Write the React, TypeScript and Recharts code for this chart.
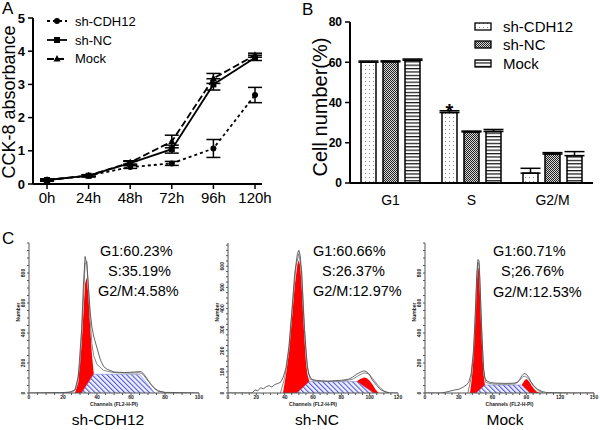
import React from 'react';
import {
  LineChart,
  Line,
  BarChart,
  Bar,
  ComposedChart,
  Area,
  XAxis,
  YAxis,
  ErrorBar,
  LabelList,
} from 'recharts';

const FONT = '"Liberation Sans", Arial, Helvetica, sans-serif';

// ---- A: CCK-8 growth curve ----
const hours = ['0h', '24h', '48h', '72h', '96h', '120h'];
const cdh12Abs = [0.12, 0.25, 0.51, 0.62, 1.07, 2.68];
const cdh12AbsErr = [0.03, 0.03, 0.04, 0.06, 0.27, 0.23];
const ncAbs = [0.12, 0.25, 0.63, 1.05, 3.0, 3.8];
const ncAbsErr = [0.03, 0.03, 0.05, 0.12, 0.17, 0.08];
const mockAbs = [0.12, 0.25, 0.65, 1.28, 3.18, 3.88];
const mockAbsErr = [0.03, 0.03, 0.05, 0.19, 0.15, 0.06];
const absTicks = [0, 1, 2, 3, 4, 5];

// ---- B: cell cycle distribution ----
const phases = ['G1', 'S', 'G2/M'];
const cdh12Pct = [60.0, 35.0, 4.9];
const cdh12PctErr = [0.6, 0.9, 2.4];
const ncPct = [60.2, 25.4, 14.4];
const ncPctErr = [0.5, 0.4, 0.7];
const mockPct = [61.0, 25.6, 13.6];
const mockPctErr = [0.6, 1.0, 2.0];
const sigMarks = ['', '*', ''];
const pctTicks = [0, 20, 40, 60, 80];

// ---- C: flow cytometry histograms (channel, count) ----
const cdh12RawCh = [0, 10, 20, 24, 27, 29, 31, 32, 33, 34, 35, 36, 37, 38, 40, 42, 44, 46, 50, 56, 62, 66, 68, 70, 72, 74, 76, 80, 88, 100];
const cdh12Raw = [0, 2, 3, 6, 20, 110, 430, 720, 910, 860, 700, 540, 440, 380, 300, 220, 175, 158, 140, 136, 140, 143, 120, 85, 55, 28, 12, 4, 3, 0];
const cdh12FitCh = [20, 26, 28, 30, 32, 33, 34, 35, 36, 37, 38, 40, 44, 50, 60, 65, 67, 70, 73, 76, 80];
const cdh12Fit = [0, 8, 40, 200, 620, 860, 880, 690, 480, 330, 250, 190, 150, 136, 133, 135, 125, 80, 40, 15, 3];
const cdh12G1Ch = [27, 29, 31, 33, 34, 35, 36, 37, 38, 39.5];
const cdh12G1 = [0, 70, 330, 730, 770, 640, 440, 260, 140, 0];
const cdh12SCh = [31, 38, 65, 74];
const cdh12S = [0, 125, 125, 0];

const ncRawCh = [0, 17, 19, 21, 23, 25, 27, 29, 31, 33, 35, 37, 39, 41, 43, 45, 47, 49, 50, 51, 52, 53, 54, 55, 56, 57, 59, 62, 66, 70, 75, 80, 85, 88, 91, 94, 96, 98, 100, 102, 105, 108, 111, 114, 120];
const ncRaw = [0, 0, 15, 10, 25, 20, 30, 35, 28, 40, 45, 50, 75, 120, 220, 380, 560, 660, 676, 650, 560, 420, 300, 200, 130, 90, 65, 60, 58, 56, 58, 60, 65, 75, 90, 100, 105, 100, 85, 60, 35, 15, 5, 0, 0];
const ncFitCh = [37, 40, 43, 46, 48, 50, 52, 54, 56, 58, 62, 70, 80, 88, 92, 96, 99, 102, 106, 110, 114];
const ncFit = [0, 70, 200, 450, 600, 660, 580, 300, 120, 65, 56, 55, 56, 65, 82, 95, 92, 70, 35, 10, 0];
const ncG1Ch = [38.8, 41, 43, 45, 47, 49, 50, 51, 52, 53, 54, 55, 56, 57.4, 59];
const ncG1 = [0, 90, 190, 340, 500, 610, 629, 600, 500, 370, 250, 150, 90, 54, 0];
const ncSCh = [48.7, 57.4, 91, 102.8];
const ncS = [0, 54, 54, 0];
const ncG2Ch = [88, 90, 93, 96, 98, 100, 102, 104, 106.3];
const ncG2 = [0, 50, 65, 73, 70, 58, 40, 18, 0];

const mockRawCh = [0, 14, 18, 22, 26, 30, 34, 37, 39, 41, 43, 44, 45, 46, 47, 48, 49, 50, 51, 52, 53, 55, 58, 62, 70, 78, 82, 84, 86, 88, 90, 92, 94, 97, 100, 104, 108, 115, 130, 150];
const mockRaw = [0, 0, 5, 12, 20, 25, 40, 55, 75, 130, 280, 420, 600, 800, 890, 880, 700, 480, 300, 170, 100, 80, 70, 66, 64, 65, 70, 90, 115, 130, 125, 105, 75, 45, 25, 10, 3, 2, 0, 0];
const mockFitCh = [38, 41, 43, 45, 46, 47, 48, 49, 50, 52, 54, 60, 70, 80, 84, 87, 89, 92, 96, 100, 105];
const mockFit = [0, 100, 250, 560, 760, 870, 860, 680, 470, 150, 70, 60, 58, 60, 85, 110, 112, 95, 50, 18, 0];
const mockG1Ch = [39.9, 41, 42, 43, 44, 45, 46, 47, 47.5, 48, 49, 50, 51, 52, 53.2, 55];
const mockG1 = [0, 60, 130, 240, 380, 560, 740, 830, 836, 800, 620, 420, 250, 120, 53, 0];
const mockSCh = [45.5, 53.2, 85.8, 93];
const mockS = [0, 53, 53, 0];
const mockG2Ch = [84, 86, 88, 89.6, 91, 93, 95, 97, 99, 102];
const mockG2 = [0, 55, 80, 93, 88, 70, 45, 25, 10, 0];

const growthRows = hours.map((h, i) => ({
  hour: h,
  cdh12: cdh12Abs[i],
  cdh12Err: cdh12AbsErr[i],
  nc: ncAbs[i],
  ncErr: ncAbsErr[i],
  mock: mockAbs[i],
  mockErr: mockAbsErr[i],
}));

// error bars only point upwards in the figure
const phaseRows = phases.map((p, i) => ({
  phase: p,
  cdh12: cdh12Pct[i],
  cdh12Err: [0, cdh12PctErr[i]],
  nc: ncPct[i],
  ncErr: [0, ncPctErr[i]],
  mock: mockPct[i],
  mockErr: [0, mockPctErr[i]],
  sig: sigMarks[i],
}));

// merge series with different channel grids into one table (nulls get connected)
function mergeSeries(series: Record<string, [number[], number[]]>) {
  const map = new Map<number, any>();
  Object.entries(series).forEach(([key, [xs, ys]]) => {
    xs.forEach((x, i) => {
      const row = map.get(x) ?? { ch: x };
      row[key] = ys[i];
      map.set(x, row);
    });
  });
  return [...map.values()].sort((a, b) => a.ch - b.ch);
}

const cdh12Rows = mergeSeries({
  raw: [cdh12RawCh, cdh12Raw],
  fit: [cdh12FitCh, cdh12Fit],
  g1: [cdh12G1Ch, cdh12G1],
  s: [cdh12SCh, cdh12S],
});
const ncRows = mergeSeries({
  raw: [ncRawCh, ncRaw],
  fit: [ncFitCh, ncFit],
  g1: [ncG1Ch, ncG1],
  s: [ncSCh, ncS],
  g2: [ncG2Ch, ncG2],
});
const mockRows = mergeSeries({
  raw: [mockRawCh, mockRaw],
  fit: [mockFitCh, mockFit],
  g1: [mockG1Ch, mockG1],
  s: [mockSCh, mockS],
  g2: [mockG2Ch, mockG2],
});

const steps = (max: number, step: number) => {
  const out: number[] = [];
  for (let v = 0; v <= max; v += step) out.push(v);
  return out;
};

const Txt = ({ x, y, size, center, children, weight }: any) => (
  <div
    style={{
      position: 'absolute',
      left: x,
      top: y - size / 2,
      fontSize: size,
      lineHeight: 1,
      whiteSpace: 'nowrap',
      fontWeight: weight ?? 'normal',
      transform: center ? 'translateX(-50%)' : undefined,
    }}
  >
    {children}
  </div>
);

const VLabel = ({ cx, cy, size, children }: any) => (
  <div
    style={{
      position: 'absolute',
      left: cx,
      top: cy,
      fontSize: size,
      lineHeight: 1,
      whiteSpace: 'nowrap',
      transform: 'translate(-50%, -50%) rotate(-90deg)',
    }}
  >
    {children}
  </div>
);

// ---- markers ----
const CircleDot = (p: any) =>
  p.cx == null ? null : <circle key={`c${p.index}`} cx={p.cx} cy={p.cy} r={3} fill="#000" />;
const SquareDot = (p: any) =>
  p.cx == null ? null : (
    <rect key={`s${p.index}`} x={p.cx - 3} y={p.cy - 3} width={6} height={6} fill="#000" />
  );
const TriDot = (p: any) =>
  p.cx == null ? null : (
    <polygon
      key={`t${p.index}`}
      points={`${p.cx},${p.cy - 4} ${p.cx - 3.5},${p.cy + 2.5} ${p.cx + 3.5},${p.cy + 2.5}`}
      fill="#000"
    />
  );

const growthSeries = [
  { name: 'sh-CDH12', dash: '3 3', Marker: CircleDot },
  { name: 'sh-NC', dash: undefined, Marker: SquareDot },
  { name: 'Mock', dash: '7 3', Marker: TriDot },
];

function GrowthLegend() {
  return (
    <div style={{ position: 'absolute', left: 46, top: 12 }}>
      {growthSeries.map(s => (
        <div key={s.name} style={{ display: 'flex', alignItems: 'center', height: 18.8 }}>
          <svg width={22} height={10} style={{ marginRight: 7 }}>
            <line x1={1} y1={5} x2={21} y2={5} stroke="#000" strokeWidth={1.8} strokeDasharray={s.dash} />
            <s.Marker cx={11} cy={5} index={0} />
          </svg>
          <span style={{ fontSize: 13 }}>{s.name}</span>
        </div>
      ))}
    </div>
  );
}

const barSeries = [
  { name: 'sh-CDH12', fill: 'url(#dotFill)' },
  { name: 'sh-NC', fill: 'url(#checkFill)' },
  { name: 'Mock', fill: 'url(#stripeFill)' },
];

function PhaseLegend() {
  return (
    <div style={{ position: 'absolute', left: 474, top: 17 }}>
      {barSeries.map(s => (
        <div key={s.name} style={{ display: 'flex', alignItems: 'center', height: 18.5 }}>
          <svg width={18} height={9} style={{ marginRight: 11 }}>
            <rect x={1} y={1} width={16} height={7} fill={s.fill} stroke="#000" strokeWidth={1.3} />
          </svg>
          <span style={{ fontSize: 15 }}>{s.name}</span>
        </div>
      ))}
    </div>
  );
}

const StarLabel = (p: any) =>
  p.value ? (
    <text
      key={`star${p.index}`}
      x={p.x + p.width / 2}
      y={p.y + 5}
      textAnchor="middle"
      fontSize={20}
      fontWeight={700}
      fontFamily={FONT}
      fill="#000"
    >
      {p.value}
    </text>
  ) : null;

function RotatedTick(props: any) {
  const { x, y, payload, labels } = props;
  if (!labels.includes(payload.value)) return <g />;
  return (
    <text x={x - 1} y={y} transform={`rotate(-90 ${x - 1} ${y})`} textAnchor="middle" fontSize={5} fontWeight={700} fill="#222">
      {payload.value}
    </text>
  );
}

interface HistProps {
  id: string;
  left: number;
  width: number;
  rightPad: number;
  rows: any[];
  xMax: number;
  xStep: number;
  xLabelStep: number;
  yMax: number;
  yStep: number;
  yLabelStep: number;
}

function CycleHistogram(p: HistProps) {
  const xTicks = steps(p.xMax, p.xStep);
  const yTicks = steps(p.yMax, p.yStep);
  const yLabels = yTicks.filter(v => v % p.yLabelStep === 0 && v + p.yStep <= p.yMax);
  return (
    <div style={{ position: 'absolute', left: p.left, top: 235 }}>
      <ComposedChart width={p.width} height={175} data={p.rows} margin={{ top: 8, right: p.rightPad, left: 0, bottom: 5 }}>
        <defs>
          <pattern id={`hatch-${p.id}`} width={3.5} height={3.5} patternUnits="userSpaceOnUse" patternTransform="rotate(-45)">
            <rect width={3.5} height={3.5} fill="#f2f3ff" />
            <line x1={0.5} y1={0} x2={0.5} y2={3.5} stroke="#5058d8" strokeWidth={1.2} />
          </pattern>
        </defs>
        <XAxis
          type="number"
          dataKey="ch"
          domain={[0, p.xMax]}
          ticks={xTicks}
          interval={0}
          allowDataOverflow
          tickFormatter={(v: number) => (v % p.xLabelStep === 0 ? String(v) : '')}
          height={12}
          tickSize={2}
          tickMargin={0}
          tick={{ fontSize: 5, fontWeight: 700, fill: '#222', fontFamily: FONT }}
          axisLine={{ stroke: '#555' }}
          tickLine={{ stroke: '#555' }}
          label={(lp: any) => {
            const vb = lp.viewBox;
            return (
              <text x={vb.x + vb.width / 2} y={vb.y + 13} textAnchor="middle" fontSize={5} fontWeight={700} fill="#222" fontFamily={FONT}>
                Channels (FL2-H-PI)
              </text>
            );
          }}
        />
        <YAxis
          type="number"
          domain={[0, p.yMax]}
          ticks={yTicks}
          interval={0}
          allowDataOverflow
          width={28}
          tickSize={2}
          tickMargin={1}
          axisLine={{ stroke: '#555' }}
          tickLine={{ stroke: '#555' }}
          tick={(tp: any) => <RotatedTick {...tp} labels={yLabels} />}
          label={(lp: any) => {
            const vb = lp.viewBox;
            const cx = vb.x + 19;
            const cy = vb.y + vb.height * 0.46;
            return (
              <text x={cx} y={cy} transform={`rotate(-90 ${cx} ${cy})`} textAnchor="middle" fontSize={5} fontWeight={700} fill="#222" fontFamily={FONT}>
                Number
              </text>
            );
          }}
        />
        <Area type="linear" dataKey="g1" stroke="none" fill="#ff0000" fillOpacity={1} connectNulls isAnimationActive={false} />
        <Area type="linear" dataKey="g2" stroke="none" fill="#ff0000" fillOpacity={1} connectNulls isAnimationActive={false} />
        <Area type="linear" dataKey="s" stroke="#8088d8" strokeWidth={0.6} fill={`url(#hatch-${p.id})`} fillOpacity={1} connectNulls isAnimationActive={false} />
        <Line type="linear" dataKey="fit" stroke="#8a8a8a" strokeWidth={1} dot={false} connectNulls isAnimationActive={false} />
        <Line type="linear" dataKey="raw" stroke="#555" strokeWidth={0.9} dot={false} connectNulls isAnimationActive={false} />
      </ComposedChart>
    </div>
  );
}

export default function App() {
  const axisLine = { stroke: '#000', strokeWidth: 2 };
  return (
    <div
      style={{
        position: 'absolute',
        left: 0,
        top: 0,
        width: 600,
        height: 430,
        background: '#fff',
        fontFamily: FONT,
        color: '#000',
        overflow: 'hidden',
      }}
    >
      {/* A */}
      <div style={{ position: 'absolute', left: 0, top: 0 }}>
        <LineChart width={284} height={210} data={growthRows} margin={{ top: 18, right: 22, left: 0, bottom: 0 }}>
          <XAxis
            dataKey="hour"
            padding={{ left: 14, right: 7 }}
            height={26}
            interval={0}
            axisLine={axisLine}
            tickLine={{ stroke: '#000', strokeWidth: 1.5 }}
            tickSize={5}
            tickMargin={3}
            tick={{ fontSize: 15, fill: '#000', fontFamily: FONT }}
          />
          <YAxis
            width={33}
            domain={[0, 5]}
            ticks={absTicks}
            interval={0}
            axisLine={axisLine}
            tickLine={{ stroke: '#000', strokeWidth: 1.5 }}
            tickSize={5}
            tickMargin={3}
            tick={{ fontSize: 13, fontWeight: 700, fill: '#000', fontFamily: FONT }}
          />
          {[
            { key: 'cdh12', ...growthSeries[0] },
            { key: 'nc', ...growthSeries[1] },
            { key: 'mock', ...growthSeries[2] },
          ].map(s => (
            <Line
              key={s.key}
              type="linear"
              dataKey={s.key}
              stroke="#000"
              strokeWidth={1.8}
              strokeDasharray={s.dash}
              dot={s.Marker}
              activeDot={false}
              isAnimationActive={false}
            >
              <ErrorBar dataKey={`${s.key}Err`} width={7} stroke="#000" strokeWidth={1.5} direction="y" />
            </Line>
          ))}
        </LineChart>
      </div>
      <GrowthLegend />
      <VLabel cx={9} cy={102} size={18}>CCK-8 absorbance</VLabel>

      {/* B */}
      <div style={{ position: 'absolute', left: 300, top: 0 }}>
        <BarChart width={300} height={210} data={phaseRows} margin={{ top: 22, right: 7, left: 0, bottom: 0 }} barSize={15} barGap={7}>
          <defs>
            <pattern id="dotFill" width={4} height={4} patternUnits="userSpaceOnUse">
              <rect width={4} height={4} fill="#fff" />
              <rect x={1} y={1} width={1} height={1} fill="#888" />
            </pattern>
            <pattern id="checkFill" width={2} height={2} patternUnits="userSpaceOnUse">
              <rect width={2} height={2} fill="#d8d8d8" />
              <rect x={0} y={0} width={1} height={1} fill="#222" />
              <rect x={1} y={1} width={1} height={1} fill="#222" />
            </pattern>
            <pattern id="stripeFill" width={4} height={3.4} patternUnits="userSpaceOnUse">
              <rect width={4} height={3.4} fill="#fff" />
              <rect x={0} y={0} width={4} height={1.2} fill="#111" />
            </pattern>
          </defs>
          <XAxis
            dataKey="phase"
            height={27}
            tickLine={false}
            axisLine={axisLine}
            tickMargin={6}
            tick={{ fontSize: 14, fill: '#000', fontFamily: FONT }}
          />
          <YAxis
            width={50}
            domain={[0, 80]}
            ticks={pctTicks}
            interval={0}
            axisLine={axisLine}
            tickLine={{ stroke: '#000', strokeWidth: 1.5 }}
            tickSize={5}
            tickMargin={3}
            tick={{ fontSize: 12, fontWeight: 700, fill: '#000', fontFamily: FONT }}
          />
          <Bar dataKey="cdh12" fill="url(#dotFill)" stroke="#000" strokeWidth={1.5} isAnimationActive={false}>
            <ErrorBar dataKey="cdh12Err" width={10} stroke="#000" strokeWidth={1.5} direction="y" />
            <LabelList dataKey="sig" content={StarLabel} />
          </Bar>
          <Bar dataKey="nc" fill="url(#checkFill)" stroke="#000" strokeWidth={1.5} isAnimationActive={false}>
            <ErrorBar dataKey="ncErr" width={10} stroke="#000" strokeWidth={1.5} direction="y" />
          </Bar>
          <Bar dataKey="mock" fill="url(#stripeFill)" stroke="#000" strokeWidth={1.5} isAnimationActive={false}>
            <ErrorBar dataKey="mockErr" width={10} stroke="#000" strokeWidth={1.5} direction="y" />
          </Bar>
        </BarChart>
      </div>
      <PhaseLegend />
      <VLabel cx={320} cy={107} size={20}>Cell number(%)</VLabel>

      {/* C */}
      <CycleHistogram id="cdh12" left={1} width={205} rightPad={7} rows={cdh12Rows} xMax={100} xStep={5} xLabelStep={20} yMax={1000} yStep={50} yLabelStep={200} />
      <CycleHistogram id="nc" left={200} width={205} rightPad={7} rows={ncRows} xMax={120} xStep={5} xLabelStep={20} yMax={710} yStep={25} yLabelStep={100} />
      <CycleHistogram id="mock" left={397} width={203} rightPad={6} rows={mockRows} xMax={150} xStep={6} xLabelStep={30} yMax={1000} yStep={50} yLabelStep={200} />

      <Txt x={100} y={251} size={14.5}>G1:60.23%</Txt>
      <Txt x={108} y={271} size={14.5}>S:35.19%</Txt>
      <Txt x={98} y={291} size={14.5}>G2/M:4.58%</Txt>
      <Txt x={313} y={251} size={14.5}>G1:60.66%</Txt>
      <Txt x={322} y={271} size={14.5}>S:26.37%</Txt>
      <Txt x={313} y={291} size={14.5}>G2/M:12.97%</Txt>
      <Txt x={493} y={251} size={14.5}>G1:60.71%</Txt>
      <Txt x={501} y={271} size={14.5}>S;26.76%</Txt>
      <Txt x={493} y={292} size={14.5}>G2/M:12.53%</Txt>

      <Txt x={108} y={420} size={15.5} center>sh-CDH12</Txt>
      <Txt x={317} y={420} size={15.5} center>sh-NC</Txt>
      <Txt x={505} y={420} size={15.5} center>Mock</Txt>

      <Txt x={2} y={8} size={17}>A</Txt>
      <Txt x={302} y={9} size={17}>B</Txt>
      <Txt x={2} y={238} size={17}>C</Txt>
    </div>
  );
}
